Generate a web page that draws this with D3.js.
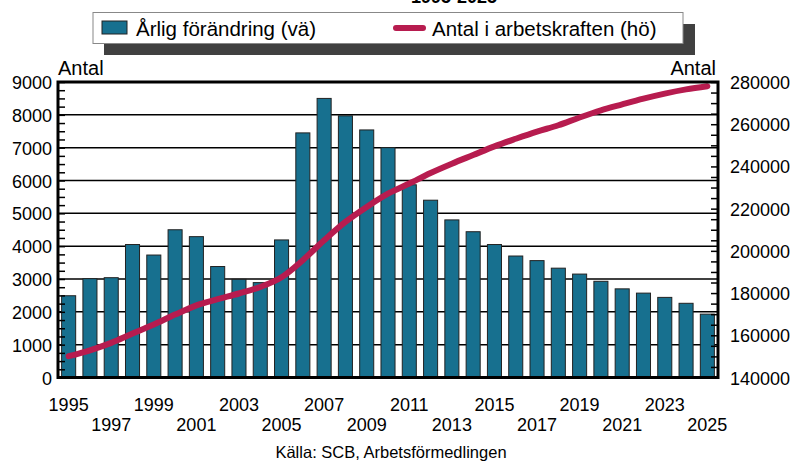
<!DOCTYPE html>
<html>
<head>
<meta charset="utf-8">
<script src="https://cdn.jsdelivr.net/npm/d3@7"></script>
<style>
  body { margin: 0; background: #fff; }
  svg { font-family: "Liberation Sans", Arial, sans-serif; display: block; }
</style>
</head>
<body>
<div id="the_chart"></div>
<script>
var years = d3.range(1995, 2026);
var yearLabels = years.filter(function (y) { return y % 2 === 1; });

// Årlig förändring (vä), antal
var change = [2490, 3010, 3040, 4050, 3730, 4500, 4290, 3380, 2990, 2890, 4190,
  7450, 8500, 7970, 7540, 7000, 5870, 5400, 4800, 4440, 4050, 3700, 3560,
  3330, 3150, 2930, 2700, 2570, 2440, 2260, 1930];

// Antal i arbetskraften (hö)
var labour = [150100, 152900, 156400, 160800, 165100, 169800, 174200, 177100, 179800, 182900, 187500,
  195600, 205000, 213700, 220800, 227100, 231900, 236900, 241300, 245400, 249500, 253100, 256500,
  259500, 263200, 266600, 269400, 272100, 274500, 276500, 278000];

var leftTicks = [0, 1000, 2000, 3000, 4000, 5000, 6000, 7000, 8000, 9000];
var rightTicks = [140000, 160000, 180000, 200000, 220000, 240000, 260000, 280000];

function gen_vis() {
    var w = 797, h = 462;
    var left = 58, right = 718, top = 82, bottom = 377.5;
    var barColor = "#17708f", lineColor = "#b71c4f";

    var svg = d3.select("#the_chart").append("svg")
        .attr("width", w)
        .attr("height", h);

    var x = d3.scaleBand()
        .domain(years)
        .range([left, right])
        .paddingInner(0.34)
        .paddingOuter(0.17);

    var yl = d3.scaleLinear().domain([0, 9000]).range([bottom, top]);
    var yr = d3.scaleLinear().domain([140000, 280000]).range([bottom, top]);

    // partial title at the very top
    svg.append("text")
        .attr("x", 454).attr("y", 2.5)
        .attr("text-anchor", "middle")
        .style("font-size", "18px").style("font-weight", "bold")
        .text("1995-2025");

    // gridlines
    svg.append("g").selectAll("line")
        .data(leftTicks.slice(1, -1))
        .enter().append("line")
        .attr("x1", left).attr("x2", right)
        .attr("y1", function (d) { return yl(d); })
        .attr("y2", function (d) { return yl(d); })
        .attr("stroke", "#000").attr("stroke-width", 1.5);

    // bars
    svg.append("g").selectAll("rect")
        .data(change)
        .enter().append("rect")
        .attr("x", function (d, i) { return x(years[i]); })
        .attr("width", x.bandwidth())
        .attr("y", function (d) { return yl(d); })
        .attr("height", function (d) { return bottom - yl(d); })
        .attr("fill", barColor)
        .attr("stroke", "#222")
        .attr("stroke-width", 1);

    // line
    var line = d3.line()
        .x(function (d, i) { return x(years[i]) + x.bandwidth() / 2; })
        .y(function (d) { return yr(d); })
        .curve(d3.curveMonotoneX);

    svg.append("path")
        .datum(labour)
        .attr("d", line)
        .attr("fill", "none")
        .attr("stroke", lineColor)
        .attr("stroke-width", 6)
        .attr("stroke-linecap", "round")
        .attr("stroke-linejoin", "round");

    // axes with inward minor ticks
    var yaxisL = d3.axisRight(yl)
        .tickValues(d3.range(0, 9001, 250))
        .tickSize(7).tickFormat("");
    svg.append("g")
        .attr("class", "yaxis")
        .attr("transform", "translate(" + left + ",0)")
        .call(yaxisL)
        .call(function (g) { g.select(".domain").remove(); })
        .selectAll("line").attr("stroke-width", 1.5);

    var yaxisR = d3.axisLeft(yr)
        .tickValues(d3.range(140000, 280001, 5000))
        .tickSize(7).tickFormat("");
    svg.append("g")
        .attr("class", "yaxis")
        .attr("transform", "translate(" + right + ",0)")
        .call(yaxisR)
        .call(function (g) { g.select(".domain").remove(); })
        .selectAll("line").attr("stroke-width", 1.5);

    // frame
    svg.append("rect")
        .attr("x", left).attr("y", top)
        .attr("width", right - left).attr("height", bottom - top)
        .attr("fill", "none").attr("stroke", "#000").attr("stroke-width", 3);

    // tick labels
    svg.append("g").selectAll("text")
        .data(leftTicks).enter().append("text")
        .attr("x", 52).attr("y", function (d) { return yl(d) + 7; })
        .attr("text-anchor", "end")
        .style("font-size", "18px")
        .text(function (d) { return d; });

    svg.append("g").selectAll("text")
        .data(rightTicks).enter().append("text")
        .attr("x", 730).attr("y", function (d) { return yr(d) + 7; })
        .style("font-size", "18px")
        .text(function (d) { return d; });

    svg.append("g").selectAll("text")
        .data(yearLabels).enter().append("text")
        .attr("x", function (d) { return x(d) + x.bandwidth() / 2; })
        .attr("y", function (d, i) { return i % 2 === 0 ? 410.5 : 430.5; })
        .attr("text-anchor", "middle")
        .style("font-size", "18px")
        .text(function (d) { return d; });

    svg.append("text").attr("x", 58).attr("y", 75)
        .style("font-size", "20px").text("Antal");
    svg.append("text").attr("x", 716).attr("y", 75)
        .attr("text-anchor", "end")
        .style("font-size", "20px").text("Antal");

    svg.append("text").attr("x", 391).attr("y", 458)
        .attr("text-anchor", "middle")
        .style("font-size", "16.5px")
        .text("Källa: SCB, Arbetsförmedlingen");

    // legend
    var lg = svg.append("g");
    lg.append("rect")
        .attr("x", 104).attr("y", 24).attr("width", 591).attr("height", 31)
        .attr("fill", "#404040");
    lg.append("rect")
        .attr("x", 93).attr("y", 12.5).attr("width", 590).attr("height", 31)
        .attr("fill", "#fff").attr("stroke", "#888").attr("stroke-width", 1);
    lg.append("rect")
        .attr("x", 102).attr("y", 21).attr("width", 25).attr("height", 13)
        .attr("fill", barColor).attr("stroke", "#222").attr("stroke-width", 1);
    lg.append("text").attr("x", 136).attr("y", 36)
        .style("font-size", "20.5px").text("Årlig förändring (vä)");
    lg.append("line")
        .attr("x1", 396).attr("x2", 423).attr("y1", 28).attr("y2", 28)
        .attr("stroke", lineColor).attr("stroke-width", 6)
        .attr("stroke-linecap", "round");
    lg.append("text").attr("x", 432).attr("y", 36)
        .style("font-size", "20.5px").text("Antal i arbetskraften (hö)");
}

gen_vis();
</script>
</body>
</html>
